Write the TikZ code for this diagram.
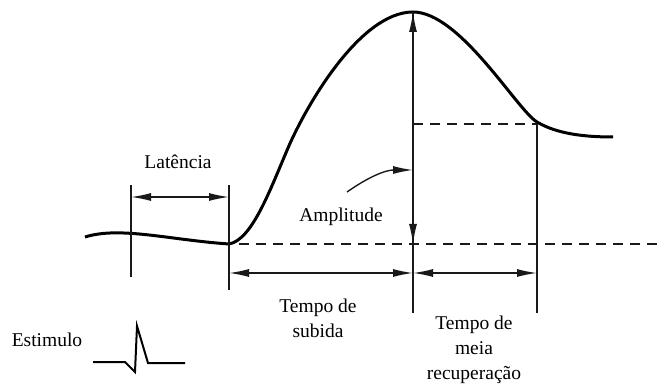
\documentclass[tikz,border=0pt]{standalone}
\usepackage{fontspec}
\setmainfont{Liberation Serif}
\usetikzlibrary{arrows.meta,calc}
\definecolor{CurveClr}{RGB}{0,0,0}
\definecolor{LineClr}{RGB}{25,25,25}

\begin{document}
\begin{tikzpicture}[x=1pt,y=-1pt,
  thinline/.style={line width=1.4pt,color=LineClr},
  tipA/.tip={Latex[length=20pt,width=8pt]},
  dimline/.style={thinline,tipA-tipA},
  dashline/.style={thinline,dash pattern=on 10pt off 7pt},
  lbl/.style={font=\fontsize{19.5}{25}\selectfont,align=center,inner sep=0pt}]
\useasboundingbox (0,0) rectangle (664,387);

% pontos
\coordinate (LatTop) at (131,185); \coordinate (LatBot) at (131,277);
\coordinate (MinTop) at (229,185); \coordinate (MinBot) at (229,290);
\coordinate (Peak) at (413,12);    \coordinate (PeakBot) at (413,313);
\coordinate (Base) at (413,244);   \coordinate (BaseL) at (229,244);
\coordinate (BaseR) at (664,244);
\coordinate (Half) at (537,124);   \coordinate (HalfL) at (413,124);
\coordinate (HalfBot) at (537,313);
\coordinate (Ptr) at (347,192);    \coordinate (PtrEnd) at (413,170);

% curva
\draw[line width=3pt,color=CurveClr,line join=round]
  (85,237) .. controls (120,226) and (170,240) .. (BaseL)
  .. controls (252,240) and (270,190) .. (288,148)
  .. controls (306,106) and (360,12) .. (Peak)
  .. controls (460,12) and (517,110) .. (537,122)
  .. controls (557,134) and (585,137) .. (613,137);

% linhas de referencia
\draw[thinline] (LatTop) -- (LatBot);
\draw[thinline] (MinTop) -- (MinBot);
\draw[thinline] (Half) -- (HalfBot);
\draw[thinline] (Peak) -- (PeakBot);
\draw[dashline] ($(BaseL)+(10,0)$) -- (BaseR);
\draw[dashline] (HalfL) -- (Half);

% cotas
\draw[dimline] ($(LatTop)+(0,12)$) -- ($(MinTop)+(0,12)$);
\draw[dimline] (Peak) -- (Base);
\draw[dimline] ($(BaseL)+(0,29)$) -- ($(Base)+(0,29)$);
\draw[dimline] ($(Base)+(0,29)$) -- ($(Half)+(0,149)$);
\draw[thinline,-tipA] (Ptr) to[out=35,in=180] (PtrEnd);

% estimulo
\draw[line width=2pt,line join=miter] (93,362) -- (125,362) -- (135,372) -- (137,326)
  -- (148,363) -- (185,363);

\node[lbl] (lat) at (178,162) {Latência};
\node[lbl] (amp) at (341,217) {Amplitude};
\node[lbl] (sub) at (318,318) {Tempo de\\subida};
\node[lbl] (rec) at (474,350) {Tempo de\\meia\\recuperação};
\node[lbl] (est) at (47,340) {Estimulo};

\end{tikzpicture}
\end{document}
